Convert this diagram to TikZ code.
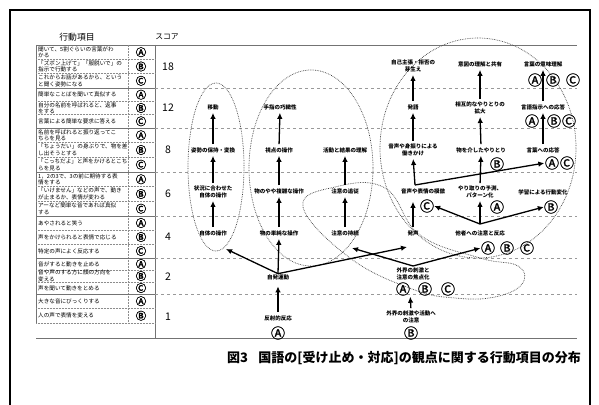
\documentclass[tikz,border=0pt]{standalone}
\usepackage{fontspec}
\newfontfamily\jp{Noto Sans CJK JP}
\newfontfamily\jpfb{Noto Sans CJK JP}[FakeBold=2.5]
\newfontfamily\jpmb{Noto Sans CJK JP}[FakeBold=1.2]
\usetikzlibrary{arrows.meta}
\tikzset{
 lbl/.style={font=\jp\bfseries\fontsize{5.5}{6.3}\selectfont, align=center, inner sep=0.5pt},
 abc/.style={font=\jpmb\fontsize{14}{14}\selectfont, inner sep=0pt},
 tabtxt/.style={font=\jp\fontsize{5.6}{6.4}\selectfont, align=left, anchor=west, inner sep=0pt},
 tababc/.style={font=\jpfb\fontsize{10.5}{10.5}\selectfont, inner sep=0pt},
 score/.style={font=\jp\fontsize{10.5}{10.5}\selectfont, inner sep=0pt},
 arr/.style={-{Latex[length=6pt,width=5.5pt]}, line width=1.3pt, shorten <=2.5pt, shorten >=2.5pt},
 dotloop/.style={densely dotted, line width=0.7pt, black!75},
 gridline/.style={dashed, black!40, line width=0.5pt},
 tabline/.style={black!55, line width=0.5pt},
 rowsep/.style={densely dotted, black!45, line width=0.5pt},
}
\begin{document}
\begin{tikzpicture}[x=1pt,y=-1pt]
\useasboundingbox (0,0) rectangle (599,404);
\fill[white] (0,0) rectangle (599,404);
\draw[line width=2pt] (10,10) rectangle (590,420);

% header
\node[font=\jp\fontsize{8.8}{9}\selectfont] (hdr1) at (77,37) {行動項目};
\node[font=\jp\fontsize{7.8}{8}\selectfont] (hdr2) at (167,37) {スコア};

% table frame
\draw[black!55, line width=0.8pt] (36,45) -- (577,45);
\draw[black!55, line width=0.8pt] (36,338) -- (577,338);
\draw[tabline] (36,45) -- (36,323);
\draw[tabline] (155,45) -- (155,338);
\draw[rowsep] (128,45) -- (128,323);
\foreach \y in {88,128,172,216,258,294} {
  \draw[tabline] (36,\y) -- (155,\y);
  \draw[gridline] (155,\y) -- (577,\y);
}
\foreach \y in {59.3,73.7,101.3,114.7,142.7,157.3,186.7,201.3,230,244,270,282,308.5,323} {
  \draw[rowsep] (36,\y) -- (155,\y);
}

% table texts
\node[tabtxt] (t18a) at (38,52.2) {聞いて、5割ぐらいの言葉がわ\\かる};
\node[tabtxt] (t18b) at (38,66.5) {「ズボン上げて」「服脱いで」の\\指示で行動する};
\node[tabtxt] (t18c) at (38,80.8) {これからお話があるから、という\\と聞く姿勢になる};
\node[tabtxt] (t12a) at (38,94.7) {簡単なことばを聞いて真似する};
\node[tabtxt] (t12b) at (38,108) {自分の名前を呼ばれると、返事\\をする};
\node[tabtxt] (t12c) at (38,121.3) {言葉による簡単な要求に答える};
\node[tabtxt] (t8a) at (38,135.3) {名前を呼ばれると振り返ってこ\\ちらを見る};
\node[tabtxt] (t8b) at (38,150) {「ちょうだい」の身ぶりで、物を差\\し出そうとする};
\node[tabtxt] (t8c) at (38,164.7) {「こっちだよ」と声をかけるとこち\\らを見る};
\node[tabtxt] (t6a) at (38,179.3) {1，2の3で、3の前に期待する表\\情をする};
\node[tabtxt] (t6b) at (38,194) {「いけません」などの声で、動き\\が止まるか、表情が変わる};
\node[tabtxt] (t6c) at (38,208.7) {アーなど簡単な音であれば真似\\する};
\node[tabtxt] (t4a) at (38,223) {あやされると笑う};
\node[tabtxt] (t4b) at (38,237) {声をかけられると表情で応じる};
\node[tabtxt] (t4c) at (38,251) {特定の声によく反応する};
\node[tabtxt] (t2a) at (38,264) {音がすると動きを止める};
\node[tabtxt] (t2b) at (38,276) {音や声のする方に顔の方向を\\変える};
\node[tabtxt] (t2c) at (38,288) {声を聞いて動きをとめる};
\node[tabtxt] (t1a) at (38,301.2) {大きな音にびっくりする};
\node[tabtxt] (t1b) at (38,315.7) {人の声で表情を変える};

\foreach \y/\l [count=\i] in {52.2/Ⓐ,66.5/Ⓑ,80.8/Ⓒ,94.7/Ⓐ,108/Ⓑ,121.3/Ⓒ,135.3/Ⓐ,150/Ⓑ,164.7/Ⓒ,179.3/Ⓐ,194/Ⓑ,208.7/Ⓒ,223/Ⓐ,237/Ⓑ,251/Ⓒ,264/Ⓐ,276/Ⓑ,288/Ⓒ,301.2/Ⓐ,315.7/Ⓑ} {
  \node[tababc] (tc\i) at (141,\y) {\l};
}

% scores
\node[score] (s18) at (168,67) {18};
\node[score] (s12) at (168,108) {12};
\node[score] (s8) at (168,150) {8};
\node[score] (s6) at (168,194) {6};
\node[score] (s4) at (168,237) {4};
\node[score] (s2) at (168,277) {2};
\node[score] (s1) at (168,317) {1};

% dotted loops
\draw[dotloop] (216,167) ellipse [x radius=28, y radius=84];
\draw[dotloop] (311,168) ellipse [x radius=62, y radius=98];
\draw[dotloop] (478,148) ellipse [x radius=98, y radius=110];
\draw[dotloop] plot[smooth cycle, tension=0.7] coordinates {(303,207) (335,187) (385,188) (420,235) (480,258) (518,266) (522,284) (495,297) (455,298) (412,289) (350,258)};

% row 1
\node[lbl] (hansha) at (278,318) {反射的反応};
\node[abc] (hA) at (278,333) {Ⓐ};
\node[lbl] (gaikai) at (411,317) {外界の刺激や活動へ\\の注意};
\node[abc] (gkB) at (411,333) {Ⓑ};
% row 2
\node[lbl] (jihatsu) at (278,277) {自発運動};
\node[lbl] (shoten) at (413,274) {外界の刺激と\\注意の焦点化};
\node[abc] (sA) at (403,289) {Ⓐ};
\node[abc] (sB) at (425,289) {Ⓑ};
\node[abc] (sC) at (448,289) {Ⓒ};
% row 4
\node[lbl] (jitai) at (213,233) {自体の操作};
\node[lbl] (mono1) at (279,233) {物の単純な操作};
\node[lbl] (jizoku) at (345,233) {注意の持続};
\node[lbl] (hassei) at (413,233) {発声};
\node[lbl] (tasha) at (480,233) {他者への注意と反応};
\node[abc] (tA) at (488,248) {Ⓐ};
\node[abc] (tB) at (507,248) {Ⓑ};
\node[abc] (tC) at (527,248) {Ⓒ};
% row 6
\node[lbl] (joukyou) at (213,192) {状況に合わせた\\自体の操作};
\node[lbl] (mono2) at (279,191) {物のやや複雑な操作};
\node[lbl] (tsuiju) at (345,191) {注意の追従};
\node[lbl] (mohou) at (423,191) {音声や表情の模倣};
\node[abc] (mC) at (427,206) {Ⓒ};
\node[lbl] (yosoku) at (480,192) {やり取りの予測、\\パターン化};
\node[abc] (yA) at (497,207) {Ⓐ};
\node[lbl] (gakushu) at (543,192) {学習による行動変化};
\node[abc] (gaB) at (551,207) {Ⓑ};
% row 8
\node[lbl] (shisei) at (213,150) {姿勢の保持・変換};
\node[lbl] (shiten) at (279,150) {視点の操作};
\node[lbl] (katsudo) at (345,150) {活動と結果の理解};
\node[lbl] (hataraki) at (413,150) {音声や身振りによる\\働きかけ};
\node[lbl] (monokai) at (481,150) {物を介したやりとり};
\node[abc] (oB) at (497,164) {Ⓑ};
\node[lbl] (kotoba) at (543,150) {言葉への応答};
\node[abc] (kA) at (552,163) {Ⓐ};
\node[abc] (kC) at (567,163) {Ⓒ};
% row 12
\node[lbl] (idou) at (213,107) {移動};
\node[lbl] (shushi) at (280,107) {手指の巧緻性};
\node[lbl] (hatsugo) at (413,107) {発語};
\node[lbl] (sougo) at (480,108) {相互的なやりとりの\\拡大};
\node[lbl] (gengo) at (543,107) {言語指示への応答};
\node[abc] (gA) at (532,121) {Ⓐ};
\node[abc] (gB) at (554,121) {Ⓑ};
\node[abc] (gC) at (569,121) {Ⓒ};
% row 18
\node[lbl] (jiko) at (413,66) {自己主張・拒否の\\芽生え};
\node[lbl] (ito) at (480,64) {意図の理解と共有};
\node[lbl] (imi) at (543,64) {言葉の意味理解};
\node[abc] (iA) at (535,80) {Ⓐ};
\node[abc] (iB) at (553,80) {Ⓑ};
\node[abc] (iC) at (573,80) {Ⓒ};

% free ends
\coordinate (e1tip) at (226,249);
\coordinate (hasseiTip) at (407,247);
\coordinate (jizokuTip) at (352,248);
\coordinate (shotenTop) at (413,266);
\coordinate (tashaTop) at (480,224);
\coordinate (mohouTop) at (415,185);

% arrows
\draw[arr, shorten >=6pt] (hansha.north) -- (jihatsu.south);
\draw[arr, shorten >=1pt] (gaikai.north) -- (sA.east|-sA.south);
\draw[arr, shorten <=0pt, shorten >=0pt] (jihatsu.north) -- (e1tip);
\draw[arr, shorten <=0pt] (jihatsu.north) -- (mono1.south);
\draw[arr, shorten <=0pt, shorten >=0pt] (jihatsu.north) -- (hasseiTip);
\draw[arr, shorten <=0pt, shorten >=0pt] (shotenTop) -- (jizokuTip);
\draw[arr, shorten <=0pt, shorten >=0.5pt] (shotenTop) -- (tA.west);

\draw[arr] (jitai.north) -- (joukyou.south);
\draw[arr] (mono1.north) -- (mono2.south);
\draw[arr] (jizoku.north) -- (tsuiju.south);
\draw[arr] (hassei.north) -- (hassei.north|-mC.north);
\draw[arr, shorten <=0pt, shorten >=0pt] (tashaTop) -- (mC.east);
\draw[arr, shorten <=0pt] (tashaTop) -- (yosoku.south);
\draw[arr, shorten <=0pt, shorten >=0pt] (tashaTop) -- (gaB.west);

\draw[arr] (joukyou.north) -- (shisei.south);
\draw[arr] (mono2.north) -- (shiten.south);
\draw[arr] (tsuiju.north) -- (katsudo.south);
\draw[arr, shorten <=0pt] (mohouTop) -- (hataraki.south);
\draw[arr, shorten <=0pt, shorten >=0.5pt] (mohouTop) -- (kA.west);
\draw[arr] (yosoku.north) -- (monokai.south);

\draw[arr] (shisei.north) -- (idou.south);
\draw[arr] (shiten.north) -- (shushi.south);
\draw[arr] (hataraki.north) -- (hatsugo.south);
\draw[arr] (monokai.north) -- (sougo.south);
\draw[arr] (kotoba.north) -- (gengo.south);

\draw[arr] (hatsugo.north) -- (jiko.south);
\draw[arr] (sougo.north) -- (ito.south);
\draw[arr] (gengo.north) -- (imi.south);

% title
\node[font=\jp\bfseries\fontsize{13}{13}\selectfont] (title) at (404,358) {図3\hspace{0.8em}国語の[受け止め・対応]の観点に関する行動項目の分布};
\end{tikzpicture}
\end{document}
